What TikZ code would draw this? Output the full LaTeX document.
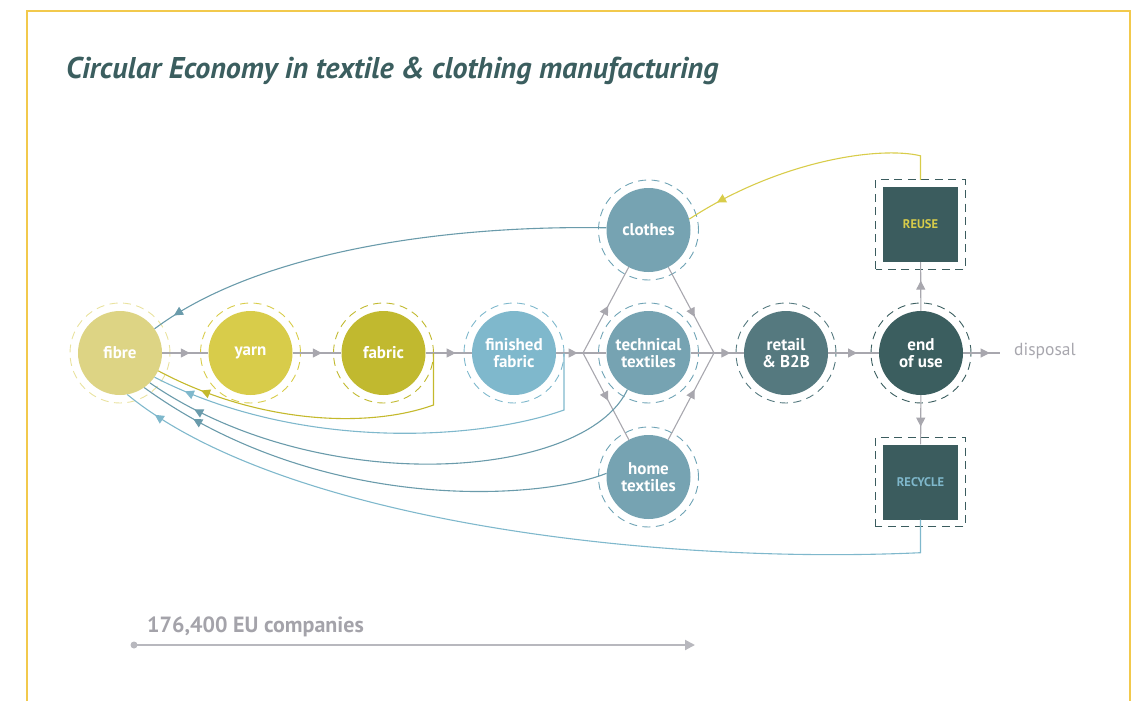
\documentclass[tikz,border=0pt]{standalone}
\usepackage{fontspec}
\setmainfont{PT Sans}
\usetikzlibrary{arrows.meta,decorations.markings,calc}

\definecolor{frameY}{HTML}{F2C94C}
\definecolor{titleC}{HTML}{3B5E5F}
\definecolor{fibreC}{HTML}{DDD484}
\definecolor{yarnC}{HTML}{D8CC4A}
\definecolor{fabricC}{HTML}{C1B92F}
\definecolor{finC}{HTML}{7FB8CC}
\definecolor{prodC}{HTML}{76A3B2}
\definecolor{retailC}{HTML}{55797F}
\definecolor{endC}{HTML}{3B5E5F}
\definecolor{boxC}{HTML}{3B5C5E}
\definecolor{flowC}{HTML}{A8A7AE}
\definecolor{tealC}{HTML}{6A9BAB}
\definecolor{lblueC}{HTML}{7FB8CC}
\definecolor{yretC}{HTML}{C4B92C}
\definecolor{fibreRing}{HTML}{E9E29F}
\definecolor{prodRing}{HTML}{6FA3B5}
\definecolor{noteC}{HTML}{A4A3AA}
\definecolor{scaleC}{HTML}{B8B8BE}

\tikzset{
  stage/.style={circle, fill=#1, minimum size=84pt, inner sep=0pt, text=white,
    font=\bfseries\fontsize{17}{16.5}\selectfont, align=center},
  ringline/.style={draw=#1, line width=0.9pt, dash pattern=on 8pt off 5.5pt},
  boxnode/.style={rectangle, fill=boxC, minimum size=75pt, inner sep=0pt,
    font=\bfseries\fontsize{12.5}{13}\selectfont, text=#1},
  flow/.style={draw=flowC, line width=1.1pt},
  back/.style={draw=#1, line width=1.1pt},
  tipat/.style={postaction={decorate}, decoration={markings,
    mark=at position #1 with {\arrow{Triangle[length=9pt,width=9pt]}}}},
}

\begin{document}
\begin{tikzpicture}[x=1pt,y=-1pt]
\useasboundingbox (0,0) rectangle (1137,701);

% frame and title
\draw[frameY, line width=1.4pt] (27,701) -- (27,11) -- (1130,11) -- (1130,701);
\node[anchor=base west, text=titleC, font=\bfseries\itshape\fontsize{30}{32}\selectfont,
  inner sep=0pt] (title) at (66,78) {Circular Economy in textile \& clothing manufacturing};

% stages
\node[stage=fibreC]  (fibre)   at (120,353)   {fibre};
\node[stage=yarnC]   (yarn)    at (250.5,353) {yarn};
\node[stage=fabricC] (fabric)  at (383.5,353) {fabric};
\node[stage=finC]    (fin)     at (514,353)   {finished\\fabric};
\node[stage=prodC]   (tech)    at (648.5,353) {technical\\textiles};
\node[stage=prodC]   (clothes) at (648.5,230) {clothes};
\node[stage=prodC]   (home)    at (648.5,477) {home\\textiles};
\node[stage=retailC] (retail)  at (786,353)   {retail\\\& B2B};
\node[stage=endC]    (endu)    at (921,353)   {end\\of use};
\node[boxnode=yarnC] (reuse)   at (920.5,224.5) {REUSE};
\node[boxnode=finC]  (recycle) at (920.5,482)   {RECYCLE};

% dashed rings
\foreach \n/\c in {fibre/fibreRing, yarn/yarnC, fabric/fabricC, fin/finC,
                   tech/prodRing, clothes/prodRing, home/prodRing,
                   retail/retailC, endu/endC}
  \draw[ringline=\c] (\n.center) circle[radius=50pt];
\foreach \n in {reuse, recycle}
  \draw[ringline=boxC] ($(\n.south west)+(-7,7)$) rectangle ($(\n.north east)+(7,-7)$);

% forward flow
\coordinate (hexL) at (583,353);
\coordinate (hexR) at (714,353);
\coordinate (dispEnd) at (1000,353);
\draw[flow, tipat=0.6]  (fibre) -- (yarn);
\draw[flow, tipat=0.6]  (yarn) -- (fabric);
\draw[flow, tipat=0.65] (fabric) -- (fin);
\draw[flow, tipat=0.8]  (fin) -- (hexL);
\draw[flow] (hexL) -- (tech);
\draw[flow] (tech) -- (hexR);
\draw[flow, tipat=0.55] (hexL) -- (clothes);
\draw[flow, tipat=0.55] (hexL) -- (home);
\draw[flow, tipat=0.58] (clothes) -- (hexR);
\draw[flow, tipat=0.58] (home) -- (hexR);
\draw[flow, tipat=0.55] (hexR) -- (retail);
\draw[flow, tipat=0.57] (retail) -- (endu);
\draw[flow, tipat=0.72] (endu) -- (dispEnd);
\draw[flow, tipat=0.62] (endu) -- (reuse);
\draw[flow, tipat=0.64] (endu) -- (recycle);
\node[anchor=west, text=flowC, font=\fontsize{17.5}{18}\selectfont, inner sep=0pt]
  (disposal) at (1014,351) {disposal};

% return loops
\draw[back=yretC, tipat=0.86] ($(fabric.center)+(50,0)$) -- ++(0,52)
  .. controls (370,428) and (260,425) .. (fibre.-25);
\draw[back=lblueC, tipat=0.93] ($(fin.center)+(50,0)$) -- ++(0,57)
  .. controls (480,440) and (300,452) .. (fibre.-35);
\draw[back=tealC, tipat=0.9] (tech.-120)
  .. controls (585,480) and (320,500) .. (fibre.-45);
\draw[back=tealC, tipat=0.88] (home.175)
  .. controls (540,500) and (320,515) .. (fibre.-55);
\draw[back=lblueC, tipat=0.96] (recycle.south) -- ++(0,33)
  .. controls (650,565) and (280,520) .. (fibre.-80);
\draw[back=tealC, tipat=0.95] (clothes.177)
  .. controls (450,225) and (260,250) .. (fibre.35);
\draw[back=yarnC, tipat=0.88] ($(reuse.north)+(0,-7)$) -- ++(0,-24)
  .. controls (880,146) and (780,160) .. (clothes.15);

% scale bar
\coordinate (barEnd) at (695,645);
\fill[scaleC] (134,645) circle[radius=3.5pt] coordinate (barStart);
\draw[scaleC, line width=2pt, -{Triangle[length=10pt,width=10pt]}] (barStart) -- (barEnd);
\node[anchor=base west, text=noteC, font=\bfseries\fontsize{22}{24}\selectfont, inner sep=0pt]
  (companies) at (147,632) {176,400 EU companies};
\end{tikzpicture}
\end{document}
